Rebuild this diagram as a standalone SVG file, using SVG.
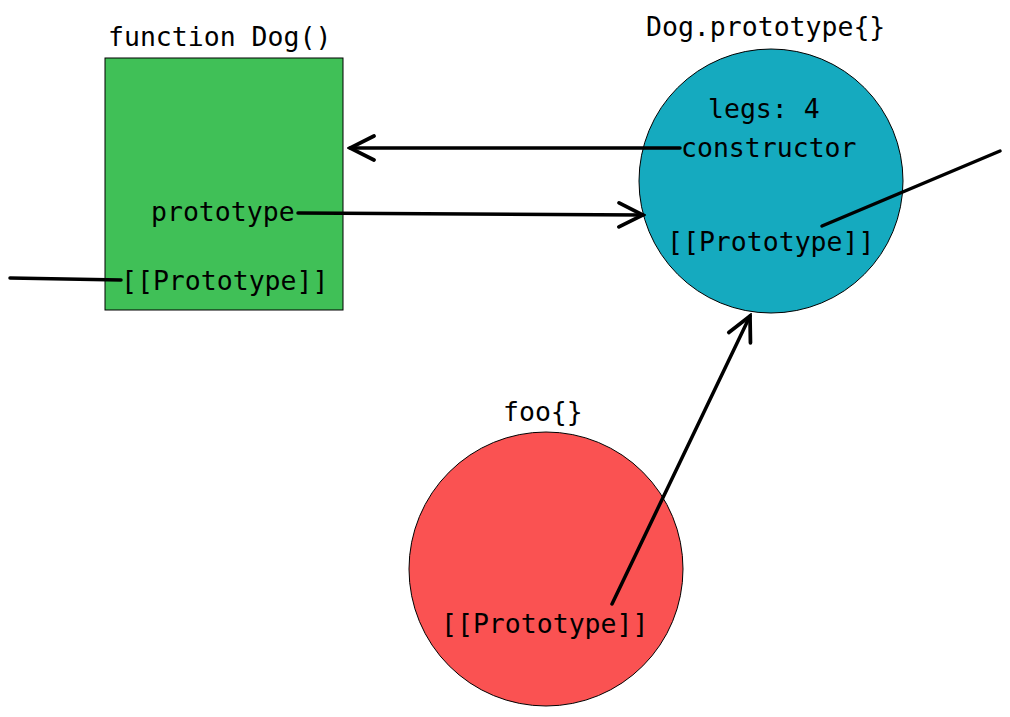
<svg xmlns="http://www.w3.org/2000/svg" width="1010" height="717" viewBox="0 0 1010 717">
<style>
text{font-family:"DejaVu Sans Mono","Liberation Mono",monospace;font-size:26.5px;fill:#000}
.c{stroke:#000;stroke-width:3.5;fill:none;stroke-linecap:round}
</style>
<defs>
<marker id="a" viewBox="0 0 20 20" refX="18" refY="10" markerWidth="30" markerHeight="30" markerUnits="userSpaceOnUse" orient="auto">
<path d="M2,2 L18,10 L2,18" fill="none" stroke="#000" stroke-width="2.5" stroke-linecap="round"/>
</marker>
</defs>
<rect width="1010" height="717" fill="#fff"/>
<g id="dog">
<rect x="105" y="58" width="238" height="252" fill="#40c057" stroke="#000" stroke-width="1"/>
<text x="108" y="46">function Dog()</text>
<text x="151" y="221">prototype</text>
<text x="121" y="290">[[Prototype]]</text>
</g>
<g id="dogproto">
<circle cx="771" cy="181" r="132" fill="#15aabf" stroke="#000" stroke-width="1"/>
<text x="646" y="36">Dog.prototype{}</text>
<text x="708" y="118">legs: 4</text>
<text x="681" y="157">constructor</text>
<text x="667" y="251">[[Prototype]]</text>
</g>
<g id="foo">
<circle cx="546" cy="569" r="137" fill="#fa5252" stroke="#000" stroke-width="1"/>
<text x="503" y="421">foo{}</text>
<text x="441" y="633">[[Prototype]]</text>
</g>
<g id="connectors">
<path class="c" d="M10,278 L121,280"/>
<path class="c" d="M680,148 L350,148" marker-end="url(#a)"/>
<path class="c" d="M298,213 L643,215" marker-end="url(#a)"/>
<path class="c" d="M822,226 L1000,151"/>
<path class="c" d="M612,604 L750,316" marker-end="url(#a)"/>
</g>
</svg>
